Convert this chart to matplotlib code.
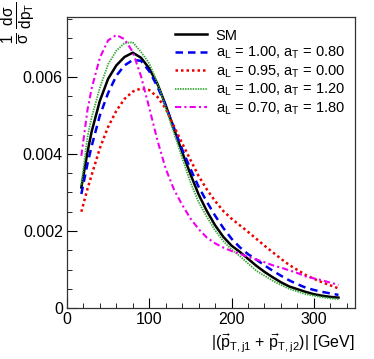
import matplotlib
matplotlib.use("Agg")
import matplotlib.pyplot as plt
from matplotlib.ticker import MultipleLocator, FuncFormatter

plt.rcParams["font.family"] = ["Liberation Sans", "DejaVu Sans"]
plt.rcParams["mathtext.fontset"] = "custom"
plt.rcParams["mathtext.rm"] = "Liberation Sans"
plt.rcParams["mathtext.it"] = "Liberation Sans:italic"
plt.rcParams["mathtext.default"] = "regular"

# pT of the dijet system, bin centres [GeV]
pt = [17.5, 25, 30, 40, 50, 60, 70, 80, 90, 100, 110, 120, 130, 140, 150, 160,
      170, 180, 190, 200, 210, 220, 230, 240, 250, 260, 270, 280, 290, 300,
      310, 320, 330]

# normalised distributions, units of 1e-3 / GeV
sm = [3.13, 4.05, 4.58, 5.38, 5.95, 6.30, 6.52, 6.63, 6.50, 6.22, 5.82, 5.27,
      4.65, 4.05, 3.48, 2.95, 2.52, 2.15, 1.85, 1.62, 1.46, 1.28, 1.10, 0.94,
      0.80, 0.67, 0.56, 0.49, 0.42, 0.36, 0.32, 0.29, 0.27]
al100_at080 = [2.96, 3.75, 4.20, 5.00, 5.58, 6.03, 6.30, 6.44, 6.42, 6.15, 5.75,
               5.25, 4.68, 4.12, 3.62, 3.15, 2.76, 2.40, 2.08, 1.80, 1.58, 1.40,
               1.26, 1.11, 0.97, 0.84, 0.72, 0.62, 0.53, 0.47, 0.42, 0.38, 0.34]
al095_at000 = [2.50, 3.10, 3.45, 4.15, 4.70, 5.12, 5.43, 5.62, 5.70, 5.66, 5.48,
               5.18, 4.72, 4.28, 3.85, 3.43, 3.08, 2.78, 2.52, 2.32, 2.15, 1.98,
               1.80, 1.62, 1.45, 1.28, 1.12, 0.99, 0.86, 0.76, 0.67, 0.59, 0.51]
al100_at120 = [3.20, 4.45, 4.95, 5.72, 6.33, 6.68, 6.88, 6.90, 6.65, 6.35, 5.85,
               5.20, 4.55, 3.90, 3.27, 2.75, 2.37, 2.02, 1.74, 1.52, 1.35, 1.16,
               0.97, 0.84, 0.71, 0.60, 0.50, 0.43, 0.36, 0.32, 0.28, 0.25, 0.23]
al070_at180 = [3.95, 5.15, 5.70, 6.50, 6.95, 7.09, 6.98, 6.65, 6.02, 5.20, 4.35,
               3.62, 3.08, 2.68, 2.33, 2.05, 1.83, 1.68, 1.57, 1.48, 1.41, 1.33,
               1.26, 1.19, 1.11, 1.05, 0.98, 0.91, 0.82, 0.77, 0.72, 0.66, 0.60]

labels = [
    "SM",
    r"a$_{L}$ = 1.00, a$_{T}$ = 0.80",
    r"a$_{L}$ = 0.95, a$_{T}$ = 0.00",
    r"a$_{L}$ = 1.00, a$_{T}$ = 1.20",
    r"a$_{L}$ = 0.70, a$_{T}$ = 1.80",
]

fig = plt.figure(figsize=(3.74, 3.59), dpi=100)
ax = fig.add_axes([0.179, 0.142, 0.770, 0.811])

scale = 1e-3
ax.plot(pt, [v * scale for v in sm], color="black", lw=1.8, label=labels[0])
ax.plot(pt, [v * scale for v in al100_at080], color="#0000ee", lw=1.8,
        dashes=(3, 2), label=labels[1])
ax.plot(pt, [v * scale for v in al095_at000], color="#ee0000", lw=1.8,
        dashes=(1, 1.2), label=labels[2])
ax.plot(pt, [v * scale for v in al100_at120], color="#33aa33", lw=1.3,
        dashes=(0.8, 0.6), label=labels[3])
ax.plot(pt, [v * scale for v in al070_at180], color="#ee00ee", lw=1.5,
        dashes=(3, 1.5, 1, 1.5), label=labels[4])

ax.set_xlim(0, 350)
ax.set_ylim(0, 0.00756)
ax.xaxis.set_major_locator(MultipleLocator(100))
ax.xaxis.set_minor_locator(MultipleLocator(20))
ax.yaxis.set_major_locator(MultipleLocator(0.002))
ax.yaxis.set_minor_locator(MultipleLocator(0.0005))
ax.yaxis.set_major_formatter(FuncFormatter(lambda v, p: "0" if abs(v) < 1e-9 else f"{v:.3f}"))
ax.tick_params(which="both", direction="in", labelsize=11.5, pad=3)
ax.tick_params(which="major", length=7)
ax.tick_params(which="minor", length=3.6)
for s in ax.spines.values():
    s.set_linewidth(0.9)
    s.set_color("#333333")

leg = ax.legend(loc="upper right", frameon=False, fontsize=10.5, handlelength=2.2,
                handletextpad=0.6, labelspacing=0.15, borderaxespad=0.3,
                bbox_to_anchor=(1.0, 0.995))

fig.text(0.949, 0.045,
         r"$|(\vec{p}_{T,j1}$ + $\vec{p}_{T,j2})|$ [GeV]",
         ha="right", va="center", fontsize=11.5)
fig.text(0.05, 0.995, r"$\frac{1}{\sigma}\,\frac{d\sigma}{dp_{T}}$",
         rotation=90, ha="center", va="top", fontsize=16)

fig.savefig("out.png", dpi=100)
